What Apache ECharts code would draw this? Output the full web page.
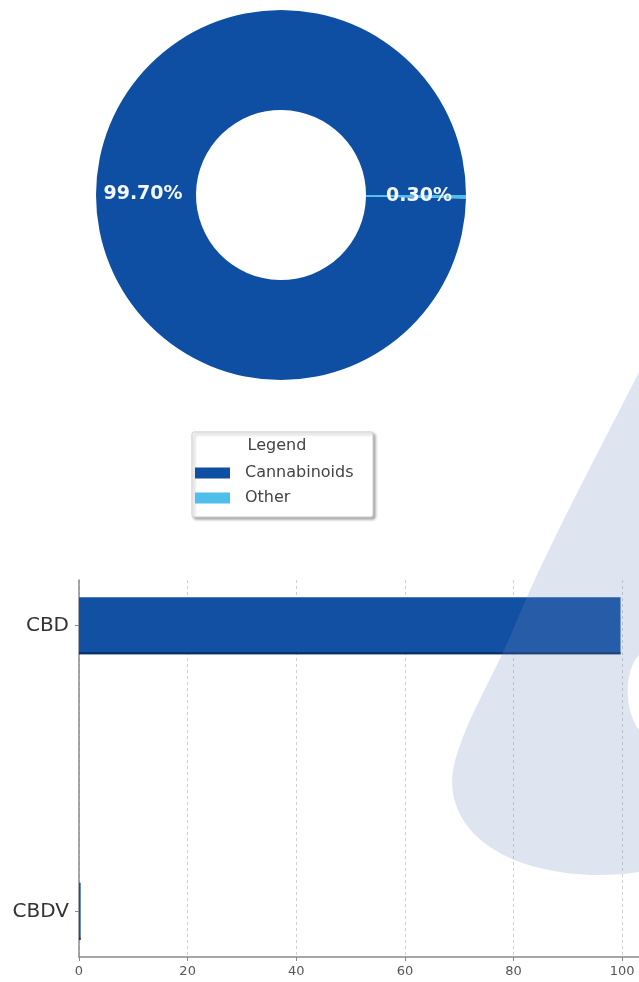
<!DOCTYPE html>
<html><head><meta charset="utf-8">
<script src="https://cdn.jsdelivr.net/npm/echarts@6/dist/echarts.min.js"></script>
<style>html,body{margin:0;padding:0;background:#fff}#c{width:639px;height:982px}</style>
</head><body><div id="c"></div>
<script>
// ---- data ----
const pieNames = ['Cannabinoids', 'Other'];
const pieValues = [99.7, 0.3];
const barCategories = ['CBDV', 'CBD'];   // bottom -> top
const barValues = [0.3, 99.7];
const xTickValues = [0, 20, 40, 60, 80, 100];

// ---- styles ----
const pieColors = ['#0e4fa3', '#4dbfea'];
const barColor = '#1150a2';
const FONT = 'DejaVu Sans';
const watermarkPath = 'M639,372 C605,440 548,545 515,625 C495,675 462,725 453,770 C446,815 480,860 560,872 C590,877 620,875 639,872 L639,730 C625,712 623,672 639,655 Z';

const chart = echarts.init(document.getElementById('c'), null, {renderer: 'canvas'});

const barData = barValues.map((v, i) => [v, i]);

chart.setOption({
  backgroundColor: '#ffffff',
  animation: false,
  legend: {
    data: pieNames,
    orient: 'vertical',
    left: 195, top: 465,
    itemWidth: 35, itemHeight: 11, itemGap: 9,
    icon: 'rect',
    padding: 0,
    z: 5,
    textStyle: {fontFamily: FONT, fontSize: 16, color: '#444', padding: [0, 0, 0, 10]}
  },
  grid: {left: 79, top: 580, width: 560, height: 377, containLabel: false},
  xAxis: {
    type: 'value', min: 0, max: 103.1, interval: 20,
    axisLine: {show: true, onZero: false, lineStyle: {color: '#8a8a8a', width: 1.5}},
    axisTick: {show: true, length: 4, lineStyle: {color: '#8a8a8a'}},
    axisLabel: {
      fontFamily: FONT, fontSize: 13, color: '#555', margin: 8, showMaxLabel: false,
      formatter: v => (xTickValues.indexOf(v) >= 0 ? String(v) : '')
    },
    splitLine: {show: true, lineStyle: {color: '#c4c4c4', type: [3, 3], width: 0.8}}
  },
  yAxis: {
    type: 'value', min: -0.16, max: 1.16,
    axisLine: {show: true, onZero: false, lineStyle: {color: '#8a8a8a', width: 1.5}},
    axisTick: {show: true, length: 4, customValues: barCategories.map((c, i) => i), lineStyle: {color: '#8a8a8a'}},
    axisLabel: {
      customValues: barCategories.map((c, i) => i),
      fontFamily: FONT, fontSize: 20, color: '#333', margin: 10,
      formatter: v => barCategories[Math.round(v)]
    },
    splitLine: {show: false}
  },
  series: [
    {
      type: 'pie',
      radius: [85, 185],
      center: [281, 195],
      startAngle: 0,
      clockwise: false,
      silent: true,
      data: pieNames.map((n, i) => ({name: n, value: pieValues[i], itemStyle: {color: pieColors[i]}})),
      label: {
        show: true, position: 'inside',
        formatter: p => p.percent.toFixed(2) + '%',
        fontFamily: FONT, fontSize: 19, fontWeight: 'bold', color: '#f4f7fb'
      },
      labelLine: {show: false},
      itemStyle: {borderWidth: 0}
    },
    {
      type: 'custom',
      coordinateSystem: 'cartesian2d',
      encode: {x: 0, y: 1},
      data: barData,
      z: 3,
      renderItem: function (params, api) {
        const v = api.value(0), y = api.value(1);
        const s = api.coord([0, y]);
        const e = api.coord([v, y]);
        const h = api.size([0, 0.2])[1];
        const w = Math.max(e[0] - s[0], 1.2);
        return {
          type: 'group',
          children: [
            {type: 'rect', shape: {x: s[0], y: s[1] - h / 2, width: w, height: h}, style: {fill: barColor}},
            {type: 'line', shape: {x1: s[0], y1: s[1] + h / 2 - 1, x2: s[0] + w, y2: s[1] + h / 2 - 1}, style: {stroke: '#0a2d62', lineWidth: 2}}
          ]
        };
      }
    },
    {
      type: 'custom',
      coordinateSystem: 'none',
      silent: true,
      z: 20,
      data: [0],
      renderItem: function () {
        return {type: 'path', shape: {pathData: watermarkPath}, style: {fill: 'rgba(112,138,190,0.23)'}};
      }
    }
  ],
  graphic: [
    {
      type: 'rect', z: 1, silent: true,
      shape: {x: 192, y: 432, width: 181, height: 85, r: 2},
      style: {fill: '#ffffff', stroke: '#cfcfcf', lineWidth: 1, shadowBlur: 3, shadowOffsetX: 2, shadowOffsetY: 2, shadowColor: 'rgba(0,0,0,0.35)'}
    },
    {
      type: 'text', z: 6, silent: true,
      style: {x: 277, y: 446, text: 'Legend', fill: '#444', font: '16px "DejaVu Sans"', align: 'center', verticalAlign: 'middle'}
    }
  ]
});
</script>
</body></html>
